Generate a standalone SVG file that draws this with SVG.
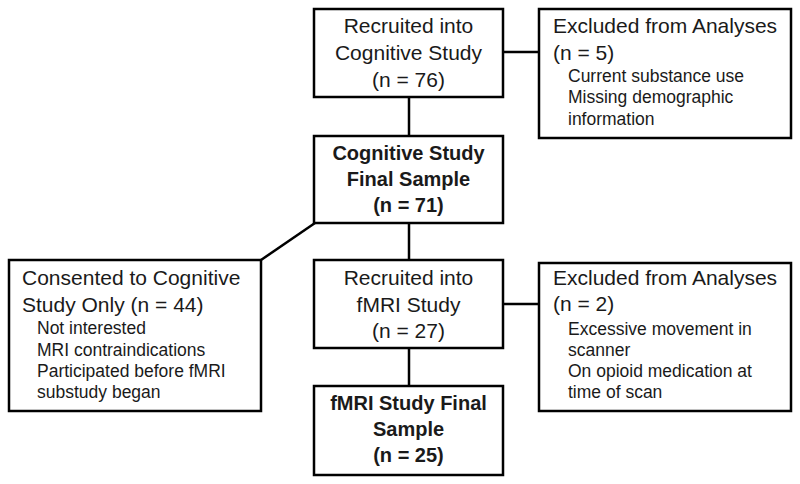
<svg xmlns="http://www.w3.org/2000/svg" width="800" height="484" viewBox="0 0 800 484">
<style>
rect{fill:#fff;stroke:#000;stroke-width:2.5}
.c line{stroke:#000;stroke-width:2.5}
text{font-family:"Liberation Sans",Arial,sans-serif;fill:#1a1a1a}
.m{font-size:21px}
.s{font-size:17.5px}
.b{font-size:20px;font-weight:bold}
.ctr{text-anchor:middle}
</style>
<rect width="800" height="484" style="fill:#fff;stroke:none"/>
<g class="c" id="connectors">
<line x1="409" y1="97" x2="409" y2="136"/>
<line x1="503" y1="52" x2="539" y2="52"/>
<line x1="409" y1="223" x2="409" y2="260"/>
<line x1="315" y1="223" x2="261" y2="260"/>
<line x1="503" y1="304" x2="539" y2="304"/>
<line x1="409" y1="348" x2="409" y2="386"/>
</g>
<g id="recruited-cog">
<rect x="314" y="9" width="189" height="88"/>
<text class="m ctr" x="408.5" y="33">Recruited into</text>
<text class="m ctr" x="408.5" y="60">Cognitive Study</text>
<text class="m ctr" x="408.5" y="87">(n = 76)</text>
</g>
<g id="excluded-1">
<rect x="539" y="9" width="252" height="129"/>
<text class="m" x="553" y="33">Excluded from Analyses</text>
<text class="m" x="553" y="60">(n = 5)</text>
<text class="s" x="568" y="82">Current substance use</text>
<text class="s" x="568" y="103">Missing demographic</text>
<text class="s" x="568" y="125">information</text>
</g>
<g id="cog-final">
<rect x="314" y="136" width="189" height="87"/>
<text class="b ctr" x="408.5" y="160">Cognitive Study</text>
<text class="b ctr" x="408.5" y="186">Final Sample</text>
<text class="b ctr" x="408.5" y="212">(n = 71)</text>
</g>
<g id="consented">
<rect x="9" y="260" width="252" height="151"/>
<text class="m" x="22" y="285">Consented to Cognitive</text>
<text class="m" x="22" y="312">Study Only (n = 44)</text>
<text class="s" x="37" y="334">Not interested</text>
<text class="s" x="37" y="356">MRI contraindications</text>
<text class="s" x="37" y="377">Participated before fMRI</text>
<text class="s" x="37" y="398">substudy began</text>
</g>
<g id="recruited-fmri">
<rect x="314" y="260" width="189" height="88"/>
<text class="m ctr" x="408.5" y="285">Recruited into</text>
<text class="m ctr" x="408.5" y="312">fMRI Study</text>
<text class="m ctr" x="408.5" y="338">(n = 27)</text>
</g>
<g id="excluded-2">
<rect x="539" y="263" width="252" height="148"/>
<text class="m" x="553" y="285">Excluded from Analyses</text>
<text class="m" x="553" y="311">(n = 2)</text>
<text class="s" x="568" y="335">Excessive movement in</text>
<text class="s" x="568" y="356">scanner</text>
<text class="s" x="568" y="377">On opioid medication at</text>
<text class="s" x="568" y="398">time of scan</text>
</g>
<g id="fmri-final">
<rect x="314" y="386" width="189" height="89"/>
<text class="b ctr" x="408.5" y="410">fMRI Study Final</text>
<text class="b ctr" x="408.5" y="436">Sample</text>
<text class="b ctr" x="408.5" y="462">(n = 25)</text>
</g>
</svg>
